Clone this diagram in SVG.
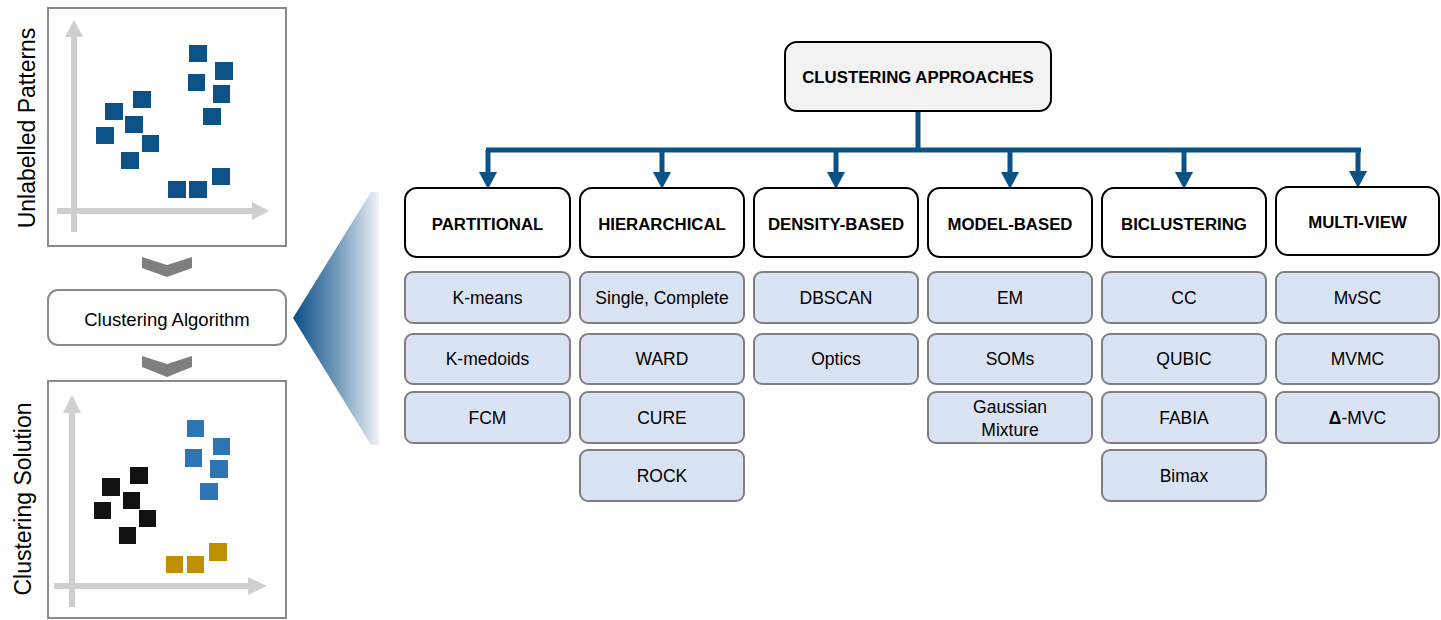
<svg xmlns="http://www.w3.org/2000/svg" width="1441" height="620" viewBox="0 0 1441 620">
<defs>
<linearGradient id="fan" x1="0" y1="0" x2="1" y2="0">
<stop offset="0" stop-color="#0b4f86"/>
<stop offset="0.5" stop-color="#6f97b9"/>
<stop offset="1" stop-color="#eef2f6"/>
</linearGradient>
<marker id="ah" markerUnits="userSpaceOnUse" markerWidth="17" markerHeight="18" refX="0" refY="9" orient="auto" viewBox="0 0 17 18">
<polygon points="0,0 17,9 0,18" fill="#0b5286"/>
</marker>
</defs>
<style>
text{font-family:"Liberation Sans",Arial,sans-serif;fill:#000}
.frame{fill:#fff;stroke:#8a8a8a;stroke-width:2}
.axis{stroke:#d0cece;stroke-width:6;fill:none}
.axhead{fill:#d0cece}
.chev{fill:#7f7f7f}
.sq1{fill:#0c5287}
.sqb{fill:#2e75b6}
.sqk{fill:#111}
.sqg{fill:#bf9000}
.side{font-size:23px}
.algo{fill:#fff;stroke:#8a8a8a;stroke-width:2}
.root{fill:#f2f2f2;stroke:#000;stroke-width:2}
.head{fill:#fff;stroke:#000;stroke-width:2}
.leaf{fill:#dae3f3;stroke:#7f7f7f;stroke-width:2}
.bt{font-weight:bold;font-size:16.8px;text-anchor:middle}
.lt{font-size:17.5px;text-anchor:middle}
.conn{stroke:#0b5286;stroke-width:5;fill:none}
</style>
<rect width="1441" height="620" fill="#fff"/>

<g id="unlabelled-patterns">
<rect class="frame" x="48" y="8" width="238" height="238"/>
<line class="axis" x1="74" y1="35" x2="74" y2="232"/>
<polygon class="axhead" points="65,37 74,20 83,37"/>
<line class="axis" x1="57" y1="211" x2="254" y2="211"/>
<polygon class="axhead" points="252,202 269,211 252,220"/>
<rect class="sq1" x="189" y="45" width="18" height="17"/>
<rect class="sq1" x="215" y="62" width="18" height="18"/>
<rect class="sq1" x="188" y="74" width="17" height="17"/>
<rect class="sq1" x="213" y="85" width="17" height="18"/>
<rect class="sq1" x="203" y="108" width="18" height="17"/>
<rect class="sq1" x="133" y="91" width="18" height="17"/>
<rect class="sq1" x="105" y="103" width="18" height="17"/>
<rect class="sq1" x="125" y="116" width="18" height="17"/>
<rect class="sq1" x="96" y="127" width="18" height="17"/>
<rect class="sq1" x="142" y="135" width="17" height="17"/>
<rect class="sq1" x="121" y="152" width="18" height="17"/>
<rect class="sq1" x="168" y="181" width="18" height="17"/>
<rect class="sq1" x="189" y="181" width="18" height="17"/>
<rect class="sq1" x="212" y="168" width="18" height="17"/>
<text class="side" transform="translate(35,128) rotate(-90)" text-anchor="middle">Unlabelled Patterns</text>
</g>

<g id="chevron-1"><polygon class="chev" points="142,257 167,265 192,257 192,268 167,277 142,268"/></g>

<g id="clustering-algorithm">
<rect class="algo" x="48" y="290" width="238" height="55" rx="10"/>
<text x="167" y="326" font-size="18.5" text-anchor="middle">Clustering Algorithm</text>
</g>

<g id="chevron-2"><polygon class="chev" points="142,356 167,364 192,356 192,367 167,377 142,367"/></g>

<g id="clustering-solution">
<rect class="frame" x="48" y="381" width="238" height="237"/>
<line class="axis" x1="72" y1="411" x2="72" y2="607"/>
<polygon class="axhead" points="63,413 72,395 81,413"/>
<line class="axis" x1="54" y1="586" x2="250" y2="586"/>
<polygon class="axhead" points="248,577 267,586 248,595"/>
<rect class="sqb" x="187" y="420" width="17" height="17"/>
<rect class="sqb" x="213" y="438" width="17" height="17"/>
<rect class="sqb" x="185" y="449" width="17" height="18"/>
<rect class="sqb" x="210" y="460" width="18" height="18"/>
<rect class="sqb" x="200" y="483" width="18" height="17"/>
<rect class="sqk" x="130" y="467" width="18" height="17"/>
<rect class="sqk" x="102" y="478" width="18" height="18"/>
<rect class="sqk" x="123" y="492" width="17" height="17"/>
<rect class="sqk" x="94" y="502" width="17" height="17"/>
<rect class="sqk" x="139" y="510" width="17" height="17"/>
<rect class="sqk" x="119" y="527" width="17" height="17"/>
<rect class="sqg" x="166" y="556" width="17" height="17"/>
<rect class="sqg" x="187" y="556" width="17" height="17"/>
<rect class="sqg" x="209" y="543" width="18" height="18"/>
<text class="side" transform="translate(31,499) rotate(-90)" text-anchor="middle">Clustering Solution</text>
</g>

<g id="zoom-fan"><polygon points="293,318 371,192 379,192 379,445 371,445" fill="url(#fan)"/></g>

<g id="connectors">
<path class="conn" d="M918,111 V150 M486,150 H1361"/>
<line class="conn" x1="488" y1="150" x2="488" y2="172" marker-end="url(#ah)"/>
<line class="conn" x1="662" y1="150" x2="662" y2="172" marker-end="url(#ah)"/>
<line class="conn" x1="836" y1="150" x2="836" y2="172" marker-end="url(#ah)"/>
<line class="conn" x1="1010" y1="150" x2="1010" y2="172" marker-end="url(#ah)"/>
<line class="conn" x1="1184" y1="150" x2="1184" y2="172" marker-end="url(#ah)"/>
<line class="conn" x1="1358" y1="150" x2="1358" y2="171" marker-end="url(#ah)"/>
</g>

<g id="root"><rect class="root" x="785" y="42" width="266" height="69" rx="12"/><text class="bt" x="918" y="83">CLUSTERING APPROACHES</text></g>

<g id="partitional"><rect class="head" x="405" y="188" width="165" height="69" rx="12"/><text class="bt" x="487.5" y="230">PARTITIONAL</text></g>
<g id="hierarchical"><rect class="head" x="580" y="188" width="164" height="69" rx="12"/><text class="bt" x="662" y="230">HIERARCHICAL</text></g>
<g id="density-based"><rect class="head" x="754" y="188" width="164" height="69" rx="12"/><text class="bt" x="836" y="230">DENSITY-BASED</text></g>
<g id="model-based"><rect class="head" x="928" y="188" width="164" height="69" rx="12"/><text class="bt" x="1010" y="230">MODEL-BASED</text></g>
<g id="biclustering"><rect class="head" x="1102" y="188" width="164" height="69" rx="12"/><text class="bt" x="1184" y="230">BICLUSTERING</text></g>
<g id="multi-view"><rect class="head" x="1276" y="187" width="163" height="68" rx="12"/><text class="bt" x="1357.5" y="228">MULTI-VIEW</text></g>

<g id="k-means"><rect class="leaf" x="405" y="272" width="165" height="51" rx="8"/><text class="lt" x="487.5" y="304">K-means</text></g>
<g id="k-medoids"><rect class="leaf" x="405" y="334" width="165" height="50" rx="8"/><text class="lt" x="487.5" y="365">K-medoids</text></g>
<g id="fcm"><rect class="leaf" x="405" y="392" width="165" height="51" rx="8"/><text class="lt" x="487.5" y="424">FCM</text></g>

<g id="single-complete"><rect class="leaf" x="580" y="272" width="164" height="51" rx="8"/><text class="lt" x="662" y="304">Single, Complete</text></g>
<g id="ward"><rect class="leaf" x="580" y="334" width="164" height="50" rx="8"/><text class="lt" x="662" y="365">WARD</text></g>
<g id="cure"><rect class="leaf" x="580" y="392" width="164" height="51" rx="8"/><text class="lt" x="662" y="424">CURE</text></g>
<g id="rock"><rect class="leaf" x="580" y="450" width="164" height="51" rx="8"/><text class="lt" x="662" y="482">ROCK</text></g>

<g id="dbscan"><rect class="leaf" x="754" y="272" width="164" height="51" rx="8"/><text class="lt" x="836" y="304">DBSCAN</text></g>
<g id="optics"><rect class="leaf" x="754" y="334" width="164" height="50" rx="8"/><text class="lt" x="836" y="365">Optics</text></g>

<g id="em"><rect class="leaf" x="928" y="272" width="164" height="51" rx="8"/><text class="lt" x="1010" y="304">EM</text></g>
<g id="soms"><rect class="leaf" x="928" y="334" width="164" height="50" rx="8"/><text class="lt" x="1010" y="365">SOMs</text></g>
<g id="gaussian-mixture"><rect class="leaf" x="928" y="392" width="164" height="51" rx="8"/><text class="lt" x="1010" y="413">Gaussian</text><text class="lt" x="1010" y="436">Mixture</text></g>

<g id="cc"><rect class="leaf" x="1102" y="272" width="164" height="51" rx="8"/><text class="lt" x="1184" y="304">CC</text></g>
<g id="qubic"><rect class="leaf" x="1102" y="334" width="164" height="50" rx="8"/><text class="lt" x="1184" y="365">QUBIC</text></g>
<g id="fabia"><rect class="leaf" x="1102" y="392" width="164" height="51" rx="8"/><text class="lt" x="1184" y="424">FABIA</text></g>
<g id="bimax"><rect class="leaf" x="1102" y="450" width="164" height="51" rx="8"/><text class="lt" x="1184" y="482">Bimax</text></g>

<g id="mvsc"><rect class="leaf" x="1276" y="272" width="163" height="51" rx="8"/><text class="lt" x="1357.5" y="304">MvSC</text></g>
<g id="mvmc"><rect class="leaf" x="1276" y="334" width="163" height="50" rx="8"/><text class="lt" x="1357.5" y="365">MVMC</text></g>
<g id="delta-mvc"><rect class="leaf" x="1276" y="392" width="163" height="51" rx="8"/><text class="lt" x="1357.5" y="424"><tspan font-weight="bold">Δ</tspan>-MVC</text></g>
</svg>
